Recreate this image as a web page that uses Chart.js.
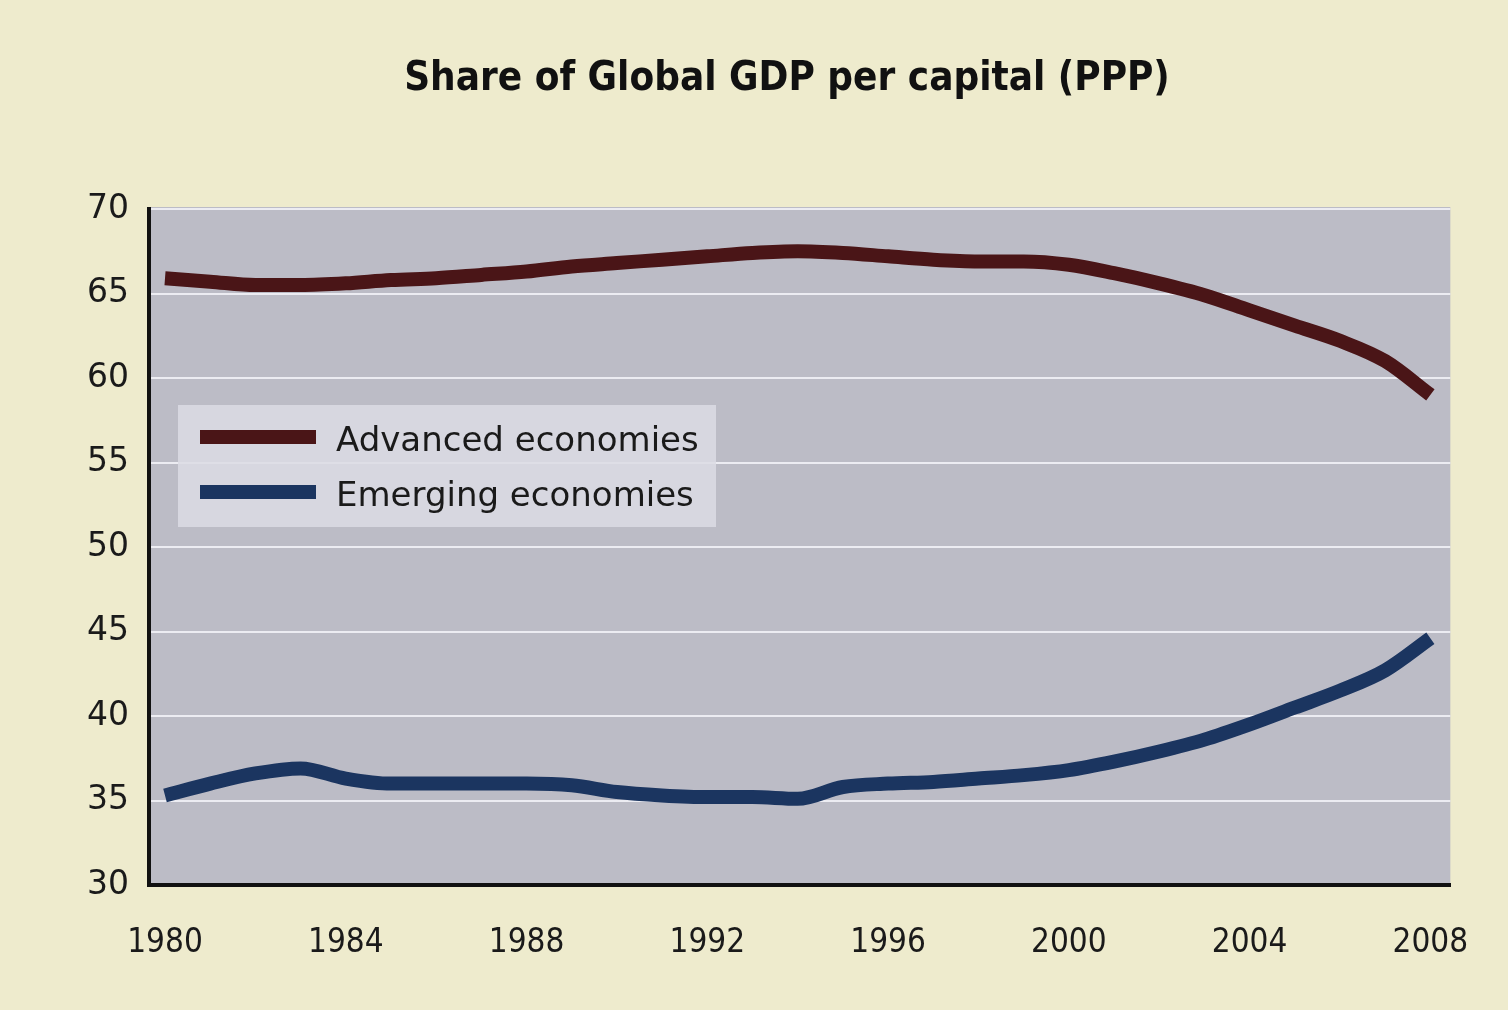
<!DOCTYPE html>
<html>
<head>
<meta charset="utf-8">
<script src="https://cdn.jsdelivr.net/npm/chart.js@4.4.2/dist/chart.umd.min.js"></script>
<style>
  html, body { margin: 0; padding: 0; background: #eeebcd; }
  #wrap { width: 1508px; height: 1010px; }
</style>
</head>
<body>
<div id="wrap"><canvas id="gdpChart" width="1508" height="1010"></canvas></div>
<script>
const titleText = 'Share of Global GDP per capital (PPP)';
const years = [1980, 1981, 1982, 1983, 1984, 1985, 1986, 1987, 1988, 1989,
  1990, 1991, 1992, 1993, 1994, 1995, 1996, 1997, 1998, 1999,
  2000, 2001, 2002, 2003, 2004, 2005, 2006, 2007, 2008];
const advanced = [65.9, 65.7, 65.5, 65.5, 65.6, 65.8, 65.9, 66.1, 66.3, 66.6,
  66.8, 67.0, 67.2, 67.4, 67.5, 67.4, 67.2, 67.0, 66.9, 66.9,
  66.7, 66.2, 65.6, 64.9, 64.0, 63.1, 62.2, 61.0, 59.0];
const emerging = [35.3, 36.0, 36.6, 36.9, 36.3, 36.0, 36.0, 36.0, 36.0, 35.9,
  35.5, 35.3, 35.2, 35.2, 35.1, 35.8, 36.0, 36.1, 36.3, 36.5,
  36.8, 37.3, 37.9, 38.6, 39.5, 40.5, 41.5, 42.7, 44.6];
const xTicks = [1980, 1984, 1988, 1992, 1996, 2000, 2004, 2008];
const yTicks = [30, 35, 40, 45, 50, 55, 60, 65, 70];
const seriesNames = ['Advanced economies', 'Emerging economies'];
const seriesColors = ['#4a1517', '#1b3560'];

const backdrop = {
  id: 'backdrop',
  beforeDraw(chart) {
    const { ctx, chartArea: a } = chart;
    ctx.save();
    ctx.fillStyle = '#eeebcd';
    ctx.fillRect(0, 0, chart.width, chart.height);
    ctx.fillStyle = '#bcbcc6';
    ctx.fillRect(a.left, a.top - 2, a.right - a.left, a.bottom - a.top + 2);
    ctx.restore();
  }
};

const titleAndLegend = {
  id: 'titleAndLegend',
  afterDraw(chart) {
    const { ctx, chartArea: a } = chart;
    ctx.save();
    ctx.fillStyle = '#111';
    ctx.font = 'bold 40px "DejaVu Sans Condensed", sans-serif';
    ctx.textAlign = 'center';
    ctx.textBaseline = 'middle';
    ctx.fillText(titleText, 787, 80);

    // legend box
    const bx = a.left + 29, by = a.top + 196;
    ctx.fillStyle = 'rgba(220, 220, 228, 0.85)';
    ctx.fillRect(bx, by, 538, 122);
    ctx.font = '34px "DejaVu Sans", sans-serif';
    ctx.textAlign = 'left';
    chart.data.datasets.forEach((ds, i) => {
      const y = by + 32 + i * 55;
      ctx.strokeStyle = ds.borderColor;
      ctx.lineWidth = 14;
      ctx.beginPath();
      ctx.moveTo(bx + 22, y);
      ctx.lineTo(bx + 138, y);
      ctx.stroke();
      ctx.fillStyle = '#1a1a1a';
      ctx.fillText(ds.label, bx + 158, y + 5);
    });
    ctx.restore();
  }
};

new Chart(document.getElementById('gdpChart'), {
  type: 'line',
  data: {
    datasets: [
      {
        label: seriesNames[0],
        data: years.map((yr, i) => ({ x: yr, y: advanced[i] })),
        borderColor: seriesColors[0],
        borderWidth: 14,
        pointRadius: 0,
        cubicInterpolationMode: 'monotone',
        borderCapStyle: 'butt'
      },
      {
        label: seriesNames[1],
        data: years.map((yr, i) => ({ x: yr, y: emerging[i] })),
        borderColor: seriesColors[1],
        borderWidth: 14,
        pointRadius: 0,
        cubicInterpolationMode: 'monotone',
        borderCapStyle: 'butt'
      }
    ]
  },
  options: {
    responsive: false,
    animation: false,
    layout: {
      padding: { top: 209, right: 56, left: 0, bottom: 0 }
    },
    plugins: {
      legend: { display: false },
      title: { display: false },
      tooltip: { enabled: false }
    },
    scales: {
      x: {
        type: 'linear',
        min: 1979.646,
        max: 2008.442,
        afterBuildTicks: scale => { scale.ticks = xTicks.map(v => ({ value: v })); },
        afterFit: scale => { scale.height = 125; },
        grid: { display: false, drawTicks: false },
        border: { color: '#111', width: 4 },
        ticks: {
          padding: 39,
          color: '#1a1a1a',
          font: { family: '"DejaVu Sans Condensed", sans-serif', size: 33 },
          callback: v => String(v),
          maxRotation: 0
        }
      },
      y: {
        min: 30,
        max: 70,
        afterBuildTicks: scale => { scale.ticks = yTicks.map(v => ({ value: v })); },
        afterFit: scale => { scale.width = 149; },
        grid: { color: '#ececf2', lineWidth: 2, drawTicks: false },
        border: { color: '#111', width: 4 },
        ticks: {
          padding: 20,
          color: '#1a1a1a',
          font: { family: '"DejaVu Sans", sans-serif', size: 33 },
          callback: v => String(v)
        }
      }
    }
  },
  plugins: [backdrop, titleAndLegend]
});
</script>
</body>
</html>
